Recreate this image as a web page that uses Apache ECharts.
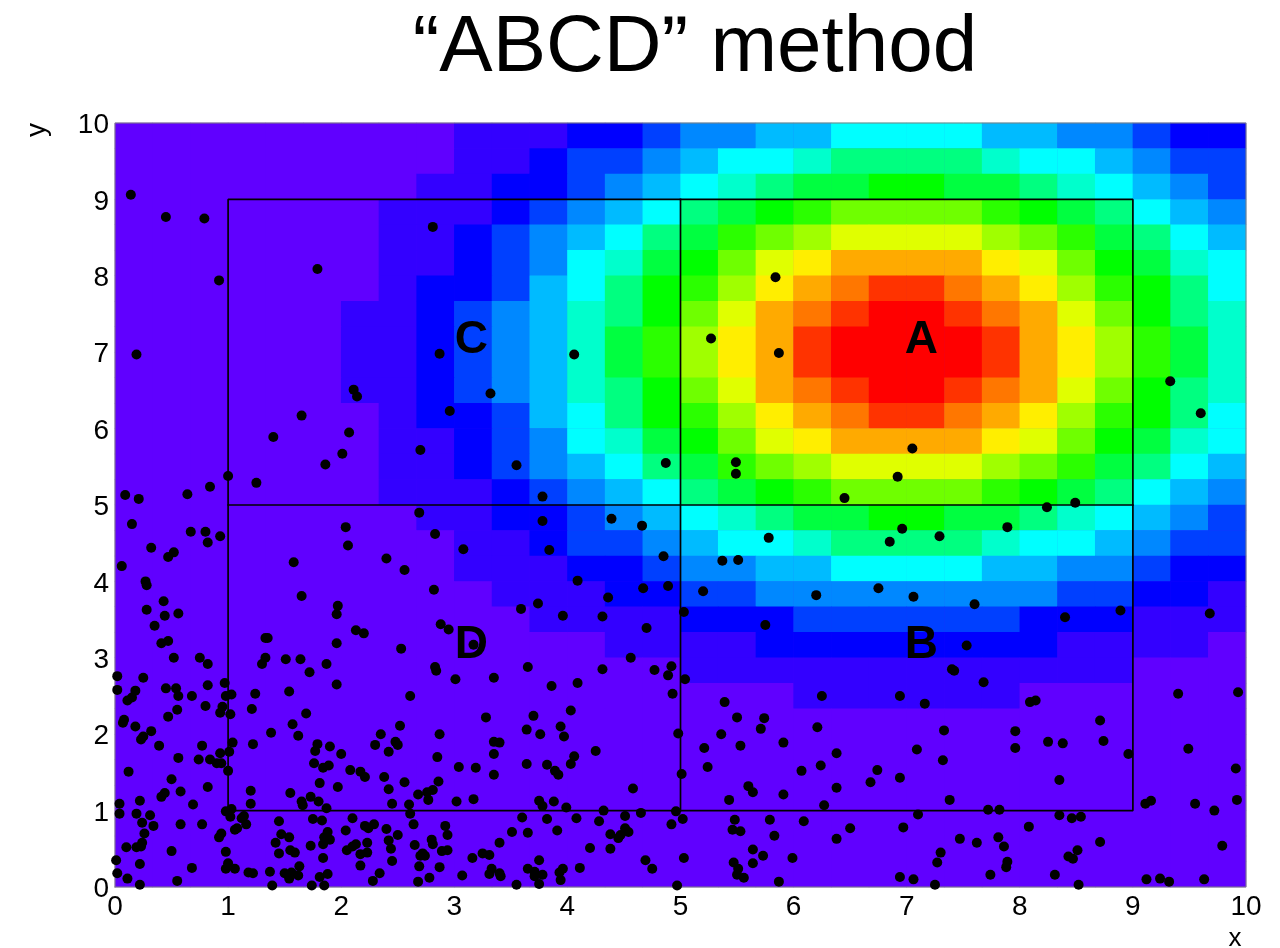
<!DOCTYPE html>
<html>
<head>
<meta charset="utf-8">
<style>html,body{margin:0;padding:0;background:#fff}#c{width:1280px;height:948px}</style>
<script src="https://cdn.jsdelivr.net/npm/echarts@6/dist/echarts.min.js"></script>
</head>
<body>
<div id="c"></div>
<script>
const titleText = '\u201CABCD\u201D method';
const regionLetters = ['A', 'B', 'C', 'D'];
const regionLetterX = [7.13, 7.13, 3.15, 3.15];
const regionLetterY = [7.15, 3.16, 7.15, 3.16];
const regionBox = [[1, 1], [9, 1], [9, 9], [1, 9], [1, 1]];
const regionSplitV = [[5, 1], [5, 9]];
const regionSplitH = [[1, 5], [9, 5]];
const plotFrame = [[0, 0], [10, 0], [10, 10], [0, 10], [0, 0]];
const palette = ['#6000ff', '#3300ff', '#0000ff', '#0040ff', '#0088ff', '#00bbff', '#00ffff', '#00ffcc', '#00ff80', '#00ff40',
  '#00ff00', '#2bff00', '#6fff00', '#a0ff00', '#e0ff00', '#ffee00', '#ffaa00', '#ff7700', '#ff3300', '#ff0000'];
// one row per 1/3 unit, top row first, each cell a colour level
const densityRows = [
 [0,0,0,0,0,0,0,0,0,1,1,1,2,2,3,4,4,5,5,6,6,6,6,5,5,4,4,3,2,2],
 [0,0,0,0,0,0,0,0,0,1,1,2,3,3,4,5,6,6,7,8,8,8,8,7,6,6,5,4,3,3],
 [0,0,0,0,0,0,0,0,1,1,2,2,3,4,5,6,7,8,9,9,10,10,9,9,8,7,6,5,4,3],
 [0,0,0,0,0,0,0,1,1,1,2,3,4,5,6,8,9,10,11,12,12,12,12,11,10,9,8,6,5,4],
 [0,0,0,0,0,0,0,1,1,2,3,4,5,6,8,9,11,12,13,14,14,14,14,13,12,11,9,8,6,5],
 [0,0,0,0,0,0,0,1,1,2,3,4,6,7,9,10,12,14,15,16,16,16,16,15,14,12,10,9,7,6],
 [0,0,0,0,0,0,0,1,2,2,3,5,6,8,10,11,13,15,16,17,18,18,17,16,15,13,11,10,8,6],
 [0,0,0,0,0,0,1,1,2,3,4,5,7,8,10,12,14,16,17,18,19,19,18,17,16,14,12,10,8,7],
 [0,0,0,0,0,0,1,1,2,3,4,5,7,9,11,13,15,16,18,19,19,19,19,18,16,15,13,11,9,7],
 [0,0,0,0,0,0,1,1,2,3,4,5,7,9,11,13,15,16,18,19,19,19,19,18,16,15,13,11,9,7],
 [0,0,0,0,0,0,1,1,2,3,4,5,7,8,10,12,14,16,17,18,19,19,18,17,16,14,12,10,8,7],
 [0,0,0,0,0,0,0,1,2,2,3,5,6,8,10,11,13,15,16,17,18,18,17,16,15,13,11,10,8,6],
 [0,0,0,0,0,0,0,1,1,2,3,4,6,7,9,10,12,14,15,16,16,16,16,15,14,12,10,9,7,6],
 [0,0,0,0,0,0,0,1,1,2,3,4,5,6,8,9,11,12,13,14,14,14,14,13,12,11,9,8,6,5],
 [0,0,0,0,0,0,0,1,1,1,2,3,4,5,6,8,9,10,11,12,12,12,12,11,10,9,8,6,5,4],
 [0,0,0,0,0,0,0,0,1,1,2,2,3,4,5,6,7,8,9,9,10,10,9,9,8,7,6,5,4,3],
 [0,0,0,0,0,0,0,0,0,1,1,2,3,3,4,5,6,6,7,8,8,8,8,7,6,6,5,4,3,3],
 [0,0,0,0,0,0,0,0,0,1,1,1,2,2,3,4,4,5,5,6,6,6,6,5,5,4,4,3,2,2],
 [0,0,0,0,0,0,0,0,0,0,1,1,1,2,2,3,3,4,4,4,4,4,4,4,4,3,3,2,2,1],
 [0,0,0,0,0,0,0,0,0,0,0,1,1,1,1,2,2,2,3,3,3,3,3,3,2,2,2,1,1,1],
 [0,0,0,0,0,0,0,0,0,0,0,0,0,1,1,1,1,2,2,2,2,2,2,2,2,1,1,1,1,0],
 [0,0,0,0,0,0,0,0,0,0,0,0,0,0,0,1,1,1,1,1,1,1,1,1,1,1,1,0,0,0],
 [0,0,0,0,0,0,0,0,0,0,0,0,0,0,0,0,0,0,1,1,1,1,1,1,0,0,0,0,0,0],
 [0,0,0,0,0,0,0,0,0,0,0,0,0,0,0,0,0,0,0,0,0,0,0,0,0,0,0,0,0,0],
 [0,0,0,0,0,0,0,0,0,0,0,0,0,0,0,0,0,0,0,0,0,0,0,0,0,0,0,0,0,0],
 [0,0,0,0,0,0,0,0,0,0,0,0,0,0,0,0,0,0,0,0,0,0,0,0,0,0,0,0,0,0],
 [0,0,0,0,0,0,0,0,0,0,0,0,0,0,0,0,0,0,0,0,0,0,0,0,0,0,0,0,0,0],
 [0,0,0,0,0,0,0,0,0,0,0,0,0,0,0,0,0,0,0,0,0,0,0,0,0,0,0,0,0,0],
 [0,0,0,0,0,0,0,0,0,0,0,0,0,0,0,0,0,0,0,0,0,0,0,0,0,0,0,0,0,0],
 [0,0,0,0,0,0,0,0,0,0,0,0,0,0,0,0,0,0,0,0,0,0,0,0,0,0,0,0,0,0]
];
const pointsLowerLeft = [
[.35,3.42],[.41,3.19],[.47,3.22],[.52,3],[.75,3],[.82,2.92],[1.33,3.26],[1.35,3.26],[2.13,3.36],[2.2,3.32],[1.96,3.19],[1.33,3],[1.3,2.92],[1.51,2.98],[1.64,2.98],[1.87,2.92],[1.72,2.81],[.02,2.76],[.25,2.74],[.97,2.67],[.82,2.64],[.45,2.6],[.54,2.6],[.02,2.58],[.18,2.57],[1.96,2.65],[1.54,2.56],[1.24,2.53],[.56,2.5],[.68,2.5],[1.03,2.52],[.98,2.5],[.15,2.48],[.11,2.44],[.8,2.37],[.95,2.36],[.93,2.28],[1.21,2.33],[.55,2.32],[.47,2.23],[1.02,2.26],[1.69,2.27],[.08,2.19],[.07,2.15],[.18,2.1],[1.57,2.13],[.32,2.04],[1.38,2.02],[1.62,1.98],[2.35,2],[.25,1.97],[.23,1.93],[1.04,1.89],[1.22,1.87],[1.79,1.87],[2.3,1.86],[.39,1.85],[.77,1.85],[1.9,1.84],[1.77,1.78],[2.42,1.77],[2,1.74],[.93,1.75],[1.01,1.77],[.56,1.69],[.74,1.67],[.84,1.67],[.9,1.62],[.94,1.62],[1.76,1.62],[1.84,1.56],[1.89,1.59],[2.08,1.53],[.12,1.51],[1,1.52],[2.17,1.51],[2.21,1.44],[2.38,1.44],[.5,1.41],[1.81,1.36],[1.97,1.31],[.82,1.31],[2.42,1.28],[1.2,1.26],[.58,1.25],[.44,1.23],[.41,1.18],[1.55,1.23],[1.73,1.18],[1.8,1.12],[1.65,1.12],[1.66,1.07],[2.45,1.09],[.22,1.13],[.04,1.09],[1.2,1.09],[.69,1.08],[1.87,1.03],[.98,.99],[1.03,1.02],[.04,.96],[.19,.96],[.31,.94],[1.02,.92],[1.14,.93],[1.12,.9],[1.75,.89],[1.83,.87],[2.1,.9],[.24,.84],[.58,.82],[.77,.82],[1.16,.82],[.34,.8],[1.45,.86],[2.21,.8],[2.24,.77],[2.29,.82],[2.4,.76],[2.04,.74],[1.08,.77],[1.06,.75],[.26,.7],[.94,.7],[.92,.65],[1.88,.72],[1.47,.69],[1.54,.65],[1.85,.65],[1.9,.62],[.24,.58],[1.42,.58],[2.23,.58],[1.84,.56],[2.42,.61],[.23,.53],[.1,.52],[.19,.52],[2.13,.56],[2.1,.53],[1.73,.54],[2.44,.5],[2.05,.48],[1.55,.48],[1.59,.45],[.98,.46],[.5,.47],[1.45,.44],[2.23,.45],[2.17,.43],[1.84,.38],[.01,.35],[2.45,.34],[.22,.3],[1,.31],[1.63,.27],[2.17,.28],[.98,.24],[1.06,.24],[.68,.25],[1.18,.19],[1.22,.18],[1.37,.2],[1.5,.18],[1.56,.19],[1.62,.15],[.02,.18],[1.88,.17],[2.34,.18],[1.81,.13],[.11,.11],[1.54,.11],[2.28,.08],[.55,.08],[.22,.03],[1.39,.02],[1.74,.02],[1.85,.02]
];
const pointsLowerMiddle = [
[2.88,3.44],[2.95,3.37],[4.7,3.39],[2.53,3.12],[3.17,3.17],[4.56,3],[2.83,2.88],[2.84,2.83],[3.65,2.88],[4.31,2.85],[4.77,2.84],[4.92,2.89],[4.89,2.77],[3.01,2.72],[3.35,2.74],[5.04,2.72],[4.09,2.67],[3.86,2.63],[2.61,2.5],[4.93,2.53],[4.03,2.31],[3.28,2.22],[3.7,2.24],[2.52,2.11],[3.94,2.1],[3.64,2.06],[2.87,2],[3.76,2],[3.97,1.97],[4.98,2.01],[2.48,1.9],[2.5,1.86],[3.35,1.9],[3.4,1.89],[4.25,1.78],[3.35,1.74],[2.85,1.7],[4.06,1.71],[4.03,1.61],[3.04,1.57],[3.19,1.56],[3.64,1.61],[3.82,1.6],[3.89,1.52],[3.92,1.47],[3.35,1.47],[5.01,1.48],[2.86,1.38],[2.56,1.37],[4.58,1.29],[2.81,1.27],[2.76,1.24],[2.68,1.21],[2.77,1.14],[3.17,1.15],[3.02,1.12],[3.75,1.13],[3.88,1.12],[3.78,1.06],[2.6,1.08],[3.99,1.04],[4.32,1],[2.61,.96],[4.96,.99],[4.65,.97],[4.51,.93],[3.6,.91],[3.82,.89],[4.08,.9],[5.02,.89],[4.28,.86],[2.64,.82],[2.92,.8],[4.92,.82],[3.91,.74],[4.51,.77],[4.54,.72],[4.38,.69],[4.47,.68],[4.45,.64],[2.94,.68],[3.65,.71],[3.51,.72],[2.5,.68],[2.8,.62],[2.81,.56],[2.65,.55],[3.4,.58],[4.2,.51],[4.38,.5],[2.94,.48],[2.89,.47],[3.25,.44],[3.31,.42],[2.72,.44],[2.74,.41],[2.7,.41],[3.16,.38],[3.75,.35],[4.69,.35],[5.03,.38],[3.33,.24],[2.69,.27],[2.87,.26],[3.65,.24],[3.96,.24],[4.11,.25],[4.75,.24],[3.71,.2],[3.93,.19],[3.4,.18],[3.31,.17],[3.78,.16],[3.07,.15],[3.41,.14],[3.71,.14],[2.78,.12],[3.94,.09],[2.68,.07],[3.55,.03],[3.75,.04],[4.97,.02]
];
const pointsLowerRight = [
[5.75,3.43],[7.53,3.16],[7.4,2.85],[7.42,2.83],[5.39,2.42],[6.25,2.5],[6.94,2.5],[7.16,2.4],[5.5,2.22],[5.74,2.21],[5.71,2.07],[6.21,2.09],[7.33,2.05],[5.36,2],[5.21,1.82],[5.53,1.85],[5.91,1.89],[7.09,1.8],[6.38,1.75],[7.32,1.66],[5.24,1.57],[6.24,1.59],[6.07,1.52],[6.74,1.53],[6.94,1.43],[6.68,1.37],[5.6,1.32],[5.64,1.24],[6.38,1.3],[5.91,1.21],[5.43,1.14],[7.38,1.14],[6.27,1.07],[7.1,.95],[5.48,.88],[5.79,.88],[6.09,.86],[5.46,.75],[5.53,.73],[5.83,.67],[6.5,.77],[6.97,.78],[6.38,.63],[7.47,.63],[5.64,.49],[5.73,.41],[7.3,.45],[5.99,.38],[5.47,.32],[5.64,.31],[7.27,.32],[5.51,.24],[5.5,.16],[5.56,.12],[6.94,.13],[7.06,.1],[5.87,.07],[7.25,.03],
[7.68,2.68],[9.4,2.53],[9.93,2.55],[8.14,2.44],[8.09,2.42],[8.71,2.18],[7.96,2.04],[8.25,1.9],[8.38,1.88],[8.74,1.91],[7.96,1.82],[9.49,1.81],[8.96,1.74],[9.91,1.55],[8.35,1.4],[9.92,1.14],[9.16,1.13],[9.11,1.09],[9.55,1.09],[9.72,1],[7.72,1.01],[7.82,1.01],[8.35,.94],[8.54,.92],[8.46,.9],[8.08,.79],[7.81,.65],[7.62,.58],[7.86,.53],[8.71,.59],[9.79,.54],[8.51,.48],[8.43,.4],[8.47,.37],[7.89,.33],[7.88,.26],[7.74,.16],[8.31,.16],[9.12,.1],[9.24,.11],[9.32,.07],[9.63,.1],[8.52,.03]
];
const pointsUpper = [
[2.11,6.51],[2.14,6.42],[1.65,6.17],[1.4,5.89],[2.07,5.95],[2.01,5.67],[1.86,5.53],[1,5.38],[1.25,5.29],[.84,5.24],[.64,5.14],[.09,5.13],[.21,5.08],[.15,4.75],[2.04,4.71],[.67,4.65],[.8,4.65],[.93,4.59],[.82,4.51],[2.06,4.47],[.32,4.44],[.52,4.38],[.47,4.32],[1.58,4.25],[2.4,4.3],[.06,4.2],[.27,4],[.28,3.95],[1.65,3.81],[.43,3.74],[1.97,3.68],[.28,3.63],[1.96,3.57],[.56,3.58],[.44,3.55],
[3.32,6.46],[2.96,6.23],[2.7,5.72],[3.55,5.52],[4.87,5.55],[3.78,5.11],[2.69,4.9],[3.78,4.79],[4.39,4.82],[4.66,4.73],[2.83,4.62],[3.08,4.42],[3.84,4.41],[4.85,4.33],[2.56,4.15],[4.09,4.01],[4.89,3.94],[4.67,3.91],[2.82,3.89],[4.36,3.79],[3.74,3.71],[3.59,3.64],[5.03,3.6],[3.96,3.55],[4.31,3.54],
[7.05,5.74],[5.49,5.56],[5.49,5.41],[6.92,5.37],[6.45,5.09],[6.96,4.69],[7.29,4.59],[6.85,4.52],[5.78,4.57],[5.37,4.27],[5.51,4.28],[5.2,3.87],[6.75,3.91],[6.2,3.82],[7.06,3.8],[7.6,3.7],
[9.33,6.62],[9.6,6.2],[8.49,5.03],[8.24,4.97],[7.89,4.71],[8.89,3.62],[8.4,3.53],[9.68,3.58],
[.14,9.06],[.45,8.77],[.79,8.75],[.92,7.94],[1.79,8.09],[.19,6.97],
[2.81,8.64],[2.87,6.98],[4.06,6.97],[5.84,7.98],[5.27,7.18],[5.87,6.99]
];

const scatterPoints = [...pointsLowerLeft, ...pointsLowerMiddle, ...pointsLowerRight, ...pointsUpper];
const cellNames = densityRows.map((_, i) => String(i));
const heatData = [];
densityRows.forEach((row, r) => row.forEach((lvl, c) => heatData.push([c, r, lvl])));
const FONT = '"Liberation Sans", Arial, sans-serif';
const chart = echarts.init(document.getElementById('c'), null, { renderer: 'canvas' });
const valueAxis = (extra) => Object.assign({
  type: 'value', min: 0, max: 10, interval: 1,
  splitLine: { show: false }, axisTick: { show: false }, axisLine: { show: false },
}, extra);
const hiddenCat = (extra) => Object.assign({ type: 'category', data: cellNames, show: false }, extra);
const outline = (data, color, width, z) => ({
  type: 'line', data, xAxisIndex: 0, yAxisIndex: 0, symbol: 'none', silent: true, clip: false, z,
  lineStyle: { color, width, cap: 'square' }, animation: false
});
chart.setOption({
  animation: false,
  backgroundColor: '#fff',
  title: {
    text: titleText, left: 690, top: 4, textAlign: 'center',
    textStyle: { fontFamily: FONT, fontSize: 80, fontWeight: 'normal', color: '#000' }
  },
  grid: { left: 115, top: 123, width: 1131, height: 764, show: true, backgroundColor: palette[0], borderWidth: 0 },
  xAxis: [
    valueAxis({ axisLabel: { fontFamily: FONT, fontSize: 28, color: '#000', margin: 6, hideOverlap: false, showMinLabel: true, showMaxLabel: true } }),
    hiddenCat({})
  ],
  yAxis: [
    valueAxis({ axisLabel: { margin: 6, showMinLabel: true, showMaxLabel: true, formatter: '{v|{value}}',
      rich: { v: { fontFamily: FONT, fontSize: 28, color: '#000', padding: [5, 0, 0, 0] } } } }),
    hiddenCat({ inverse: true })
  ],
  visualMap: {
    show: false, type: 'piecewise', seriesIndex: 0, dimension: 2,
    pieces: palette.map((color, i) => ({ value: i, color }))
  },
  graphic: [
    { type: 'text', x: 1235, y: 939, style: { text: 'x', font: '26px ' + FONT, fill: '#000', align: 'center', verticalAlign: 'middle' } },
    { type: 'text', x: 37, y: 130, rotation: Math.PI / 2, style: { text: 'y', font: '28px ' + FONT, fill: '#000', align: 'center', verticalAlign: 'middle' } }
  ],
  series: [
    { type: 'heatmap', xAxisIndex: 1, yAxisIndex: 1, data: heatData, z: 1, silent: true, progressive: 0,
      itemStyle: { borderWidth: 0 }, emphasis: { disabled: true } },
    outline(plotFrame, '#808080', 1, 2),
    outline(regionBox, '#000', 1.7, 3),
    outline(regionSplitV, '#000', 1.7, 3),
    outline(regionSplitH, '#000', 1.7, 3),
    { type: 'scatter', xAxisIndex: 0, yAxisIndex: 0, data: scatterPoints, symbol: 'circle', symbolSize: 10, z: 4, silent: true, clip: false,
      itemStyle: { color: '#000', opacity: 1 }, large: false },
    { type: 'scatter', xAxisIndex: 0, yAxisIndex: 0, symbolSize: 0, z: 5, silent: true,
      itemStyle: { opacity: 1 },
      data: regionLetters.map((t, i) => ({ value: [regionLetterX[i], regionLetterY[i]], name: t })),
      label: { show: true, position: 'inside', formatter: '{b}', fontFamily: FONT, fontWeight: 'bold', fontSize: 46, color: '#000', opacity: 1 } }
  ]
});
</script>
</body>
</html>
